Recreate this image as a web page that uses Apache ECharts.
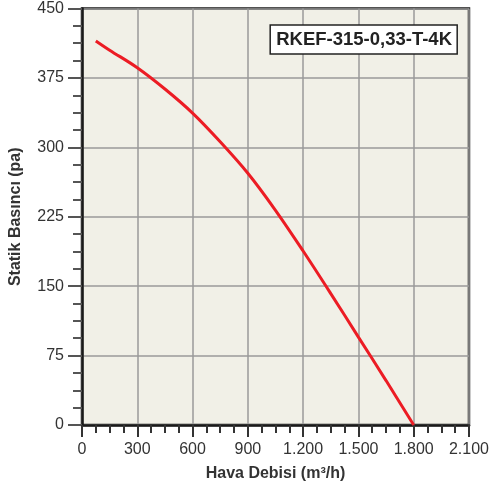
<!DOCTYPE html>
<html><head><meta charset="utf-8">
<script src="https://cdn.jsdelivr.net/npm/echarts@6/dist/echarts.min.js"></script>
<style>html,body{margin:0;padding:0;background:#fff}#c{width:492px;height:490px}</style>
</head><body><div id="c"></div>
<script>
const flow = [75, 150, 300, 450, 600, 750, 900, 1050, 1200, 1350, 1500, 1650, 1800];
const pressure = [415, 405, 386, 363, 337, 306, 272, 232, 188, 142, 95, 48, 0];
const modelName = 'RKEF-315-0,33-T-4K';
const xTitle = 'Hava Debisi (m³/h)';
const yTitle = 'Statik Basıncı (pa)';

const fmt = v => String(v).replace(/\B(?=(\d{3})+(?!\d))/g, '.');
const chart = echarts.init(document.getElementById('c'));
chart.setOption({
  animation: false,
  textStyle: { fontFamily: 'Liberation Sans, Arial, sans-serif' },
  title: {
    text: modelName, right: 35, top: 25,
    borderColor: '#222', borderWidth: 1.5, backgroundColor: '#fff',
    padding: [5, 5, 5, 6],
    textStyle: { fontSize: 18.5, fontWeight: 'bold', color: '#222', fontFamily: 'Liberation Sans, Arial, sans-serif' }
  },
  grid: { left: 81.5, right: 21, top: 8.5, bottom: 65, show: true, backgroundColor: '#f1f0e7', borderColor: '#1a1a1a', borderWidth: 2.5 },
  xAxis: {
    type: 'value', min: 0, max: 2100, interval: 300,
    name: xTitle, nameLocation: 'middle', nameGap: 41,
    nameTextStyle: { fontSize: 16, fontWeight: 'bold', color: '#333' },
    axisLine: { lineStyle: { color: '#1a1a1a', width: 2.5 } },
    axisTick: { inside: false, length: 12, lineStyle: { color: '#333', width: 2 } },
    minorTick: { show: true, splitNumber: 4, length: 8, lineStyle: { color: '#333', width: 2 } },
    axisLabel: { inside: false, fontSize: 16, color: '#333', margin: 17, formatter: fmt },
    splitLine: { show: true, lineStyle: { color: '#9a9a9a', width: 1.5 } }
  },
  yAxis: {
    type: 'value', min: 0, max: 450, interval: 75,
    name: yTitle, nameLocation: 'middle', nameGap: 58, nameRotate: 90,
    nameTextStyle: { fontSize: 16, fontWeight: 'bold', color: '#333' },
    axisLine: { lineStyle: { color: '#1a1a1a', width: 2.5 } },
    axisTick: { inside: false, length: 14, lineStyle: { color: '#555', width: 2 } },
    minorTick: { show: true, splitNumber: 4, length: 9, lineStyle: { color: '#555', width: 2 } },
    axisLabel: { inside: false, fontSize: 16, color: '#333', margin: 18 },
    splitLine: { show: true, lineStyle: { color: '#9a9a9a', width: 1.5 } }
  },
  series: [{
    type: 'line', smooth: 0.35, showSymbol: false,
    data: flow.map((f, i) => [f, pressure[i]]),
    lineStyle: { color: '#ec1c24', width: 3 }
  }]
});
</script></body></html>
